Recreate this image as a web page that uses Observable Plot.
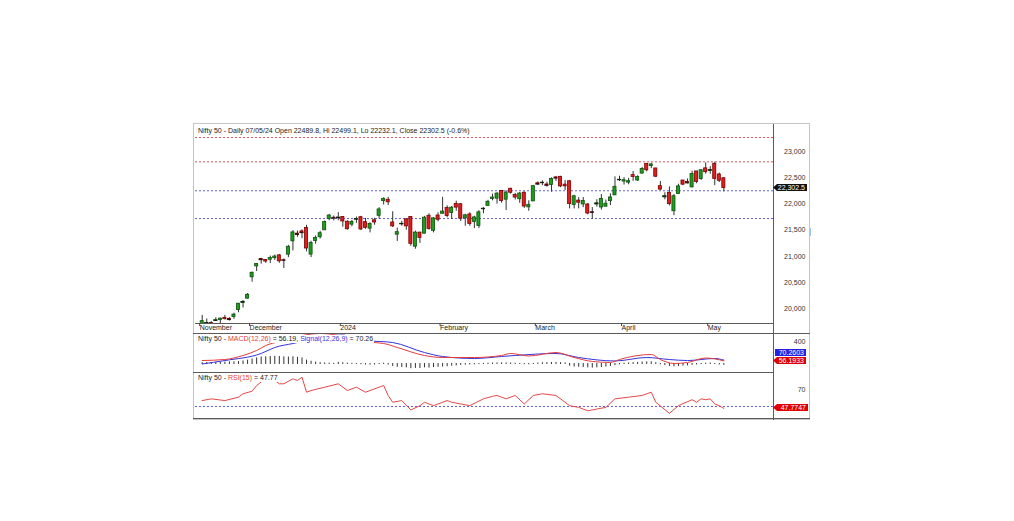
<!DOCTYPE html>
<html><head><meta charset="utf-8">
<script src="https://cdn.jsdelivr.net/npm/d3@7"></script>
<script src="https://cdn.jsdelivr.net/npm/@observablehq/plot@0.6"></script>
<style>
body{margin:0;background:#fff;}
#wrap{position:relative;width:1014px;height:521px;overflow:hidden;font-family:"Liberation Sans",Arial,sans-serif;color:#222;}
.ln{position:absolute;background:#5a5a5a;}
.ttl{position:absolute;font-size:7px;line-height:8px;white-space:nowrap;color:#222;background:#fff;padding-right:1px;}
.tag{position:absolute;font-size:7px;line-height:7px;height:7px;color:#fff;text-align:right;padding-right:2px;box-sizing:border-box;white-space:nowrap;}
.arrow{clip-path:polygon(0 50%,4px 0,100% 0,100% 100%,4px 100%);}
svg{position:absolute;left:0;}
</style></head>
<body><div id="wrap"></div>
<script>
const dates = ["2023-11-16","2023-11-17","2023-11-20","2023-11-21","2023-11-22","2023-11-23","2023-11-24","2023-11-28","2023-11-29","2023-11-30",
"2023-12-01","2023-12-04","2023-12-05","2023-12-06","2023-12-07","2023-12-08","2023-12-11","2023-12-12","2023-12-13","2023-12-14","2023-12-15","2023-12-18","2023-12-19","2023-12-20","2023-12-21","2023-12-22","2023-12-26","2023-12-27","2023-12-28","2023-12-29",
"2024-01-01","2024-01-02","2024-01-03","2024-01-04","2024-01-05","2024-01-08","2024-01-09","2024-01-10","2024-01-11","2024-01-12","2024-01-15","2024-01-16","2024-01-17","2024-01-18","2024-01-19","2024-01-20","2024-01-23","2024-01-24","2024-01-25","2024-01-29","2024-01-30","2024-01-31",
"2024-02-01","2024-02-02","2024-02-05","2024-02-06","2024-02-07","2024-02-08","2024-02-09","2024-02-12","2024-02-13","2024-02-14","2024-02-15","2024-02-16","2024-02-19","2024-02-20","2024-02-21","2024-02-22","2024-02-23","2024-02-26","2024-02-27","2024-02-28","2024-02-29",
"2024-03-01","2024-03-02","2024-03-04","2024-03-05","2024-03-06","2024-03-07","2024-03-11","2024-03-12","2024-03-13","2024-03-14","2024-03-15","2024-03-18","2024-03-19","2024-03-20","2024-03-21","2024-03-22","2024-03-26","2024-03-27","2024-03-28",
"2024-04-01","2024-04-02","2024-04-03","2024-04-04","2024-04-05","2024-04-08","2024-04-09","2024-04-10","2024-04-12","2024-04-15","2024-04-16","2024-04-18","2024-04-19","2024-04-22","2024-04-23","2024-04-24","2024-04-25","2024-04-26","2024-04-29","2024-04-30",
"2024-05-02","2024-05-03","2024-05-06","2024-05-07"];
const open = [19674,19708,19731,19770,19784,19828,19809,19844,19976,20109,
20194,20601,20808,20950,20932,20935,20966,21019,20927,21033,21286,21434,21477,21543,21034,21295,21365,21497,21715,21737,
21727,21752,21661,21605,21705,21747,21653,21529,21688,21774,22054,22080,21647,21414,21615,21706,21750,21185,21454,21433,21775,21487,
21780,21812,21921,21826,22001,21995,21727,21800,21656,21578,21907,21963,22096,22101,22249,22081,22290,22170,22090,22214,21935,
22048,22394,22403,22371,22360,22506,22517,22368,22432,21982,22064,21990,21990,21843,21989,21932,21947,22053,22164,
22455,22427,22406,22550,22447,22579,22765,22721,22677,22339,22125,22212,21861,22190,22447,22421,22316,22620,22475,22679,
22629,22766,22562,22489.8];
const high = [19875,19806,19756,19829,19825,19875,19832,19916,20104,20158,
20291,20702,20864,20962,20941,21006,21026,21037,20950,21210,21492,21482,21505,21593,21289,21390,21477,21675,21801,21770,
21834,21755,21677,21685,21749,21763,21724,21641,21726,21929,22116,22124,21851,21539,21670,21720,21750,21482,21459,21763,21813,21742,
21832,22126,21964,21951,22053,21996,21804,21831,21766,21870,21930,22069,22187,22215,22249,22252,22297,22202,22218,22229,22060,
22353,22420,22440,22416,22498,22525,22527,22446,22447,22165,22120,22123,22006,21930,22080,22180,22074,22193,22516,
22529,22501,22487,22619,22537,22697,22768,22776,22677,22428,22213,22326,22180,22376,22447,22476,22625,22620,22655,22783,
22711,22794,22588,22499.1];
const low = [19627,19667,19670,19758,19703,19786,19768,19800,19925,20015,
20183,20507,20711,20852,20868,20862,20923,20868,20769,20976,21105,21365,21337,21087,20976,21232,21330,21495,21678,21677,
21680,21555,21500,21564,21629,21492,21517,21448,21593,21715,21980,21969,21550,21285,21575,21500,21192,21137,21248,21429,21501,21448,
21658,21806,21737,21705,21860,21665,21575,21574,21530,21530,21812,21963,22059,21997,22015,21875,22186,22075,22011,21915,21860,
22048,22354,22349,22320,22224,22430,22310,22256,21906,21906,21906,21930,21793,21710,21941,21883,21947,21969,22163,
22428,22360,22366,22431,22428,22569,22612,22673,22503,22259,22079,21962,21777,22180,22349,22384,22305,22385,22448,22568,
22568,22348,22409,22232.1];
const close = [19765,19732,19694,19783,19812,19802,19795,19890,20097,20133,
20268,20687,20855,20937,20901,20970,20997,20906,20926,21183,21457,21419,21453,21150,21255,21349,21442,21655,21779,21731,
21742,21666,21518,21658,21711,21513,21545,21619,21647,21895,22097,22032,21572,21462,21622,21572,21239,21454,21353,21738,21522,21725,
21698,21854,21772,21929,21930,21718,21783,21616,21743,21840,21910,22041,22122,22197,22055,22218,22213,22122,22198,21951,21983,
22339,22378,22406,22356,22474,22493,22333,22335,21998,22146,22023,22056,21817,21839,22012,22096,22005,22124,22327,
22462,22453,22434,22515,22514,22666,22642,22754,22519,22273,22148,21996,22147,22336,22368,22402,22570,22420,22643,22605,
22648,22476,22442,22302.5];

const priceTicks = [20000,20500,21000,21500,22000,22500,23000];
const redLevels = [23267,22803];
const blueLevels = [22251,21722];
const monthIdx = [-1,10,30,52,73,92,111];
const monthLabels = ["November","December","2024","February","March","April","May"];

const macdIdx = [0,5,9,12,14,17,19,22,26,30,31,35,40,43,49,53,60,66,68,72,78,82,86,90,92,99,101,104,107,111,115];
const macdVal = [62,80,152,241,330,402,455,509,545,509,479,402,366,295,152,116,116,152,188,143,205,116,45,27,80,170,80,9,27,107,56.19];
const signalIdx = [0,5,13,16,20,22,26,31,36,42,49,53,60,66,69,78,83,91,98,103,107,113,115];
const signalVal = [0,62,188,295,366,402,473,518,420,384,205,134,98,134,152,188,116,54,116,80,62,98,70.26];
const histVal = [15,18,16,20,22,25,28,30,35,45,
60,80,100,115,120,125,128,125,118,115,120,110,100,
60,40,25,15,10,6,3,
20,12,5,2,0,-5,-8,-10,-8,-2,5,
-10,-35,-50,-55,-60,-75,-70,-72,-60,-65,-55,-50,-45,-40,
-30,-25,-15,-10,-8,-5,-2,
2,5,8,10,12,10,8,5,0,-3,-5,2,8,12,15,18,18,15,10,
-30,-45,-50,-55,-60,-65,-60,-55,-45,-35,
-20,-5,5,10,15,20,25,28,30,
15,-5,-20,-35,-40,-38,-30,-25,
-15,-8,-2,5,8,0,-8,-14];
const macdTicks = [400];

const rsiIdx = [0,2,5,8,9,11,12,14,16,17,18,20,21,22,23,24,27,30,32,34,36,40,41,42,44,46,48,49,51,54,55,59,62,64,65,66,67,69,71,73,75,78,81,83,85,87,89,91,94,97,99,100,103,105,108,109,110,111,112,113,114,115];
const rsiVal = [57,59,57,61,65,68,74.7,83,80.6,76.7,76.7,82.6,80.6,84.5,66.8,68.8,72.7,76.7,68.8,72.7,66.8,74.7,62.9,55,57,46,51,55,51,57,55,51,59,62,63,61,59,63,53,63,65,63,51,49,45,47,49,59,61,63,66.8,55,42,51,58,55,59,58,59,53,51,47.77];
const rsiLevel = [50];
const rsiTicks = [70];

// ---------- build ----------
const wrap = document.getElementById("wrap");
function line(x, y, w, h, color) {
  const d = document.createElement("div");
  d.className = "ln";
  d.style.cssText = `left:${x}px;top:${y}px;width:${w}px;height:${h}px;` + (color ? `background:${color};` : "");
  wrap.appendChild(d);
}
// outer frame
line(193, 123, 617, 1, "#c4c4c4");
line(193, 123, 1, 297, "#c4c4c4");
line(809, 123, 1, 297, "#c4c4c4");
line(193, 419, 617, 1, "#c4c4c4");
// panel separators
line(195, 323, 578, 1);
line(193, 333, 617, 1);
line(193, 372, 580, 1);
line(193, 418, 617, 1);
line(773, 124, 1, 296);
line(810, 228, 1, 8, "#9cc8f0");

const candles = dates.map((d, i) => ({i, date: d, o: open[i], h: high[i], l: low[i], c: close[i]}));
const doji = candles.filter(d => Math.abs(d.o - d.c) < 25);
const X = {type: "linear", domain: [-1.48, 125.95]};
const font = '"Liberation Sans", Arial, sans-serif';
const base = {width: 1014, marginLeft: 195, marginRight: 241, marginTop: 0,
  style: {background: "transparent", fontFamily: font, fontSize: "7px", overflow: "visible", maxWidth: "none"},
  color: {type: "identity"}};

const main = Plot.plot({
  ...base, height: 210, marginBottom: 11,
  x: {...X, axis: null},
  y: {domain: [19720, 23515], axis: null},
  marks: [
    Plot.ruleY(redLevels, {stroke: "#e05454", strokeDasharray: "2,2", strokeWidth: 1}),
    Plot.ruleY(blueLevels, {stroke: "#6262d6", strokeDasharray: "2,2", strokeWidth: 1}),
    Plot.ruleX(candles, {x: "i", y1: "l", y2: "h", stroke: "#333", strokeWidth: 1, clip: true}),
    Plot.rect(candles, {x1: d => d.i - 0.34, x2: d => d.i + 0.34, y1: "o", y2: "c",
      fill: d => d.c >= d.o ? "#1f9b1f" : "#dd1f1f",
      stroke: d => d.c >= d.o ? "#0c520c" : "#7a0000", strokeWidth: 0.8, clip: true}),
    Plot.ruleY(doji, {y: "c", x1: d => d.i - 0.45, x2: d => d.i + 0.45, stroke: "#111", strokeWidth: 1, clip: true}),
    Plot.axisX({ticks: monthIdx, tickFormat: d => monthLabels[monthIdx.indexOf(d)], tickSize: 3, tickPadding: -1,
      textAnchor: "start", dx: 2, fontSize: 7, fill: "#222", stroke: "#444", label: null}),
    Plot.axisY({anchor: "right", ticks: priceTicks, tickFormat: d3.format(","), tickSize: 0, tickPadding: 0,
      textAnchor: "end", dx: 32, fontSize: 7, fill: "#333", label: null})
  ]
});
main.style.top = "124px";
wrap.appendChild(main);

const macd = macdIdx.map((i, k) => ({i, v: macdVal[k]}));
const signal = signalIdx.map((i, k) => ({i, v: signalVal[k]}));
const hist = histVal.map((v, i) => ({i, v}));
const macdPlot = Plot.plot({
  ...base, height: 38, marginBottom: 0,
  x: {...X, axis: null},
  y: {domain: [-152, 527], axis: null},
  marks: [
    Plot.ruleX(hist, {x: "i", y1: 0, y2: "v", stroke: "#333", strokeWidth: 1, strokeLinecap: "square", clip: true}),
    Plot.line(signal, {x: "i", y: "v", stroke: "#3434dc", strokeWidth: 1, curve: "monotone-x", clip: true}),
    Plot.line(macd, {x: "i", y: "v", stroke: "#e63c3c", strokeWidth: 1, curve: "monotone-x", clip: true}),
    Plot.axisY({anchor: "right", ticks: macdTicks, tickSize: 0, tickPadding: 0, textAnchor: "end", dx: 32, fontSize: 7, fill: "#333", label: null})
  ]
});
macdPlot.style.top = "334px";
wrap.appendChild(macdPlot);

const rsi = rsiIdx.map((i, k) => ({i, v: rsiVal[k]}));
const rsiPlot = Plot.plot({
  ...base, height: 46, marginBottom: 0,
  x: {...X, axis: null},
  y: {domain: [35.9, 90], axis: null},
  marks: [
    Plot.ruleY(rsiLevel, {stroke: "#6262d6", strokeDasharray: "2,2", strokeWidth: 1}),
    Plot.line(rsi, {x: "i", y: "v", stroke: "#e64848", strokeWidth: 1, clip: true}),
    Plot.axisY({anchor: "right", ticks: rsiTicks, tickSize: 0, tickPadding: 0, textAnchor: "end", dx: 32, fontSize: 7, fill: "#333", label: null})
  ]
});
rsiPlot.style.top = "372px";
wrap.appendChild(rsiPlot);

// titles
function title(x, y, html) {
  const d = document.createElement("div");
  d.className = "ttl";
  d.style.left = x + "px"; d.style.top = y + "px";
  d.innerHTML = html;
  wrap.appendChild(d);
}
const last = candles[candles.length - 1];
title(198, 127, `Nifty 50 - Daily 07/05/24 Open ${last.o}, Hi ${last.h}, Lo ${last.l}, Close ${last.c} (-0.6%)`);
title(198, 335, `Nifty 50 - <span style="color:#e63c3c">MACD(12,26)</span> = ${macdVal[macdVal.length-1].toFixed(2)}, <span style="color:#3434dc">Signal(12,26,9)</span> = ${signalVal[signalVal.length-1].toFixed(2)}`);
title(198, 374, `Nifty 50 - <span style="color:#e63c3c">RSI(15)</span> = ${rsiVal[rsiVal.length-1].toFixed(2)}`);

// value tags positioned by scales
function tag(x, y, w, text, bg, arrow) {
  const d = document.createElement("div");
  d.className = "tag" + (arrow ? " arrow" : "");
  d.style.cssText += `left:${x}px;top:${Math.round(y - 3.5)}px;width:${w}px;background:${bg};`;
  d.textContent = text;
  wrap.appendChild(d);
}
tag(773, 124 + main.scale("y").apply(last.c), 34, d3.format(",.1f")(last.c), "#111", true);
const mY = 334 + macdPlot.scale("y").apply(macdVal[macdVal.length-1]);
tag(775, mY - 8, 31, "70.2603", "#2222e6", false);
tag(773, mY, 33, "56.1933", "#e00000", true);
tag(773, 372 + rsiPlot.scale("y").apply(rsiVal[rsiVal.length-1]), 35, "47.7747", "#e00000", true);
</script>
</body></html>
